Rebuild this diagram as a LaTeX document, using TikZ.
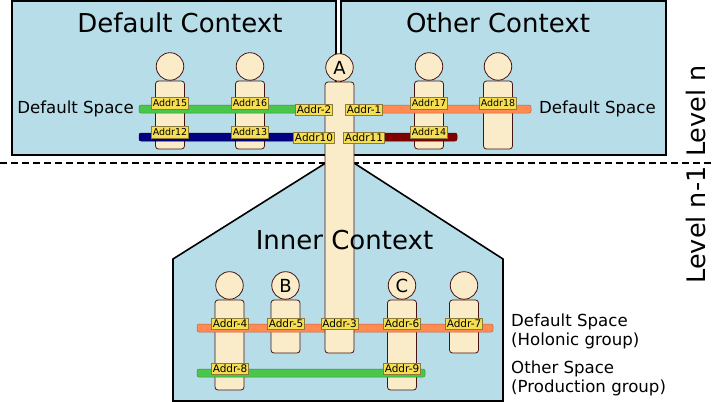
\documentclass[tikz,border=0pt]{standalone}
\usepackage{fontspec}
\setmainfont{DejaVu Sans}
\usepackage{tikz}
\usetikzlibrary{positioning}
\definecolor{ctxblue}{RGB}{183,221,232}
\definecolor{perscream}{RGB}{250,236,200}
\definecolor{persline}{RGB}{70,18,18}
\definecolor{addryellow}{RGB}{246,222,82}
\definecolor{addrline}{RGB}{140,122,60}
\definecolor{spgreen}{RGB}{74,198,74}
\definecolor{sporange}{RGB}{255,138,82}
\definecolor{spnavy}{RGB}{0,0,128}
\definecolor{spdarkred}{RGB}{128,0,0}

\begin{document}
\begin{tikzpicture}[x=1pt, y=-1pt,
    ctx/.style={draw=black, fill=ctxblue, line width=1.6pt},
    ctxtitle/.style={font=\fontsize{26}{30}\selectfont, inner sep=0pt, anchor=base},
    body/.style={rectangle, draw=persline, fill=perscream, rounded corners=3pt, minimum width=29pt, line width=0.8pt, inner sep=0pt},
    head/.style={circle, draw=persline, fill=perscream, minimum size=27.5pt, inner sep=0pt, line width=0.8pt, font=\fontsize{18}{18}\selectfont},
    bar/.style={draw=#1!75!black, fill=#1, rounded corners=2pt, line width=0.5pt},
    addr/.style={rectangle, draw=addrline, fill=addryellow, inner xsep=1.5pt, inner ysep=0pt, minimum height=11pt, line width=0.5pt, font=\fontsize{10.5}{10.5}\selectfont},
    addrs/.style={addr, minimum height=12pt, font=\fontsize{9.5}{9.5}\selectfont},
    spacetext/.style={font=\fontsize{16.6}{19}\selectfont, inner sep=0pt, align=left},
    levelline/.style={line width=1.4pt, dash pattern=on 7pt off 4pt}
]
    \useasboundingbox (0,0) rectangle (713,402);

    % contexts
    \draw[ctx] (12,1) rectangle (336,155);
    \draw[ctx] (341,1) rectangle (666,155);
    \draw[ctx] (173,401) -- (173,259) -- (340,154) -- (503,259) -- (503,401) -- cycle;
    \node[ctxtitle] (defctx) at (180,32) {Default Context};
    \node[ctxtitle] (othctx) at (498,32) {Other Context};

    % levels
    \coordinate (lvlL) at (0,163);
    \coordinate (lvlR) at (713,163);
    \draw[levelline] (lvlL) -- (lvlR);
    \node[ctxtitle, rotate=90, font=\fontsize{25.5}{30}\selectfont] (lvln) at (705,111) {Level n};
    \node[ctxtitle, rotate=90, font=\fontsize{25.5}{30}\selectfont] (lvlm) at (705,225) {Level n-1};

    % agents of level n
    \node[body, minimum height=68pt] (p15) at (170,115) {};
    \node[head, above=0pt of p15] (h15) {};
    \node[body, minimum height=68pt] (p16) at (250,115) {};
    \node[head, above=0pt of p16] (h16) {};
    \node[body, minimum height=68pt] (p17) at (429,115) {};
    \node[head, above=0pt of p17] (h17) {};
    \node[body, minimum height=68pt] (p18) at (498,115) {};
    \node[head, above=0pt of p18] (h18) {};

    % agents of level n-1
    \node[body, minimum height=90pt] (p4) at (229.5,345) {};
    \node[head, above=0pt of p4] (h4) {};
    \node[body, minimum height=53pt] (pB) at (285.5,326.5) {};
    \node[head, above=0pt of pB] (hB) {B};
    \node[body, minimum height=90pt] (pC) at (402,345) {};
    \node[head, above=0pt of pC] (hC) {C};
    \node[body, minimum height=53pt] (p7) at (464,326.5) {};
    \node[head, above=0pt of p7] (h7) {};

    % spaces
    \draw[bar=spgreen] (139,105) rectangle (326,113);
    \draw[bar=sporange] (353,105) rectangle (531,113);
    \draw[bar=spnavy] (139,133) rectangle (326,141);
    \draw[bar=spdarkred] (353,133) rectangle (457,141);
    \draw[bar=sporange] (197,324) rectangle (493,332);
    \draw[bar=spgreen] (197,369) rectangle (425,377);

    % holon A
    \node[body, minimum height=271pt] (pA) at (339.5,217.5) {};
    \node[head, above=0pt of pA] (hA) {A};

    % addresses
    \node[addrs] (a15) at (170,103) {Addr15};
    \node[addrs] (a16) at (250,103) {Addr16};
    \node[addrs] (a17) at (429,103) {Addr17};
    \node[addrs] (a18) at (498,103) {Addr18};
    \node[addrs] (a12) at (170,132) {Addr12};
    \node[addrs] (a13) at (250,132) {Addr13};
    \node[addrs] (a14) at (429,132) {Addr14};
    \node[addr] (a2) at (314,110) {Addr-2};
    \node[addr] (a1) at (364,110) {Addr-1};
    \node[addr] (a10) at (314,138) {Addr10};
    \node[addr] (a11) at (364,138) {Addr11};
    \node[addr] (a4) at (230,324) {Addr-4};
    \node[addr] (a5) at (286,324) {Addr-5};
    \node[addr] (a3) at (339.5,324) {Addr-3};
    \node[addr] (a6) at (402,324) {Addr-6};
    \node[addr] (a7) at (464,324) {Addr-7};
    \node[addr] (a8) at (230,369) {Addr-8};
    \node[addr] (a9) at (402,369) {Addr-9};

    \node[ctxtitle] (innctx) at (344.5,249) {Inner Context};

    % space names
    \node[spacetext, anchor=east] (dsl) at (134,109) {Default Space};
    \node[spacetext, anchor=west] (dsr) at (539,109) {Default Space};
    \node[spacetext, anchor=west] (dsi) at (511,331) {Default Space\\(Holonic group)};
    \node[spacetext, anchor=west] (osi) at (511,378) {Other Space\\(Production group)};
\end{tikzpicture}
\end{document}
